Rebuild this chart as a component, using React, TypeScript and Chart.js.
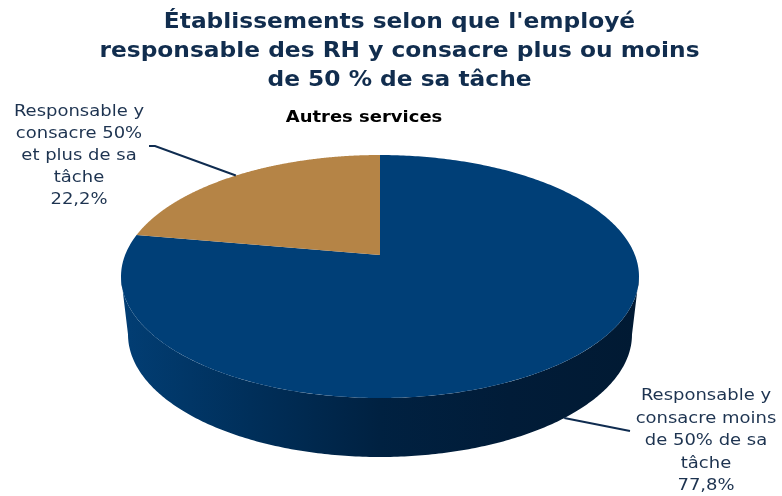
import React, { useEffect, useRef } from "react";
import { Chart, registerables } from "chart.js";

Chart.register(...registerables);

const categories = [
  "Responsable y consacre moins de 50% de sa tâche",
  "Responsable y consacre 50% et plus de sa tâche",
];
const seriesValues = [77.8, 22.2];
const sliceColors = ["#003f77", "#b58446"];
const titleLines = [
  "Établissements selon que l'employé",
  "responsable des RH y consacre plus ou moins",
  "de 50 % de sa tâche",
];
const subtitleText = "Autres services";
const labelLines = [
  ["Responsable y", "consacre moins", "de 50% de sa", "tâche", "77,8%"],
  ["Responsable y", "consacre 50%", "et plus de sa", "tâche", "22,2%"],
];

// Projection of the unit pie circle on to the page
const CX = 380, CY = 255, K = -0.177, A = 254.9, B = 117.7;
const TOP_CY = 277, BOT_CY = 335, BOT_RX = 252 / 259, BOT_RY = 123 / 122;
const SILHOUETTE = Math.asin(0.177);
const top = (t: number) => {
  const u = Math.cos(t), v = Math.sin(t), w = 1 + K * v;
  return { x: CX + (A * u) / w, y: CY + (B * v) / w };
};
const bottom = (t: number) => {
  const p = top(t);
  return { x: CX + (p.x - CX) * BOT_RX, y: BOT_CY + (p.y - TOP_CY) * BOT_RY };
};

const TITLE_STRETCH = 1.11;
const TEXT_STRETCH = 1.09;
const TITLE_CENTER = 399.5;

const stretched = (ctx: CanvasRenderingContext2D, s: string, cx: number, y: number) => {
  ctx.save();
  ctx.translate(cx, y);
  ctx.scale(TEXT_STRETCH, 1);
  ctx.fillText(s, 0, 0);
  ctx.restore();
};

const pie3d = {
  id: "pie3d",
  beforeDraw(chart: any) {
    // the title's face is wider than any installed font: widen it around its centre
    const tb = chart.titleBlock;
    if (tb && !tb.__wide) {
      tb.__wide = true;
      const draw = tb.draw;
      tb.draw = function (...args: any[]) {
        const ctx = chart.ctx;
        ctx.save();
        ctx.translate(TITLE_CENTER, 0);
        ctx.scale(TITLE_STRETCH, 1);
        ctx.translate(-TITLE_CENTER, 0);
        draw.apply(tb, args);
        ctx.restore();
      };
    }
  },
  beforeDatasetsDraw(chart: any) {
    const ctx = chart.ctx as CanvasRenderingContext2D;
    const arcs = chart.getDatasetMeta(0).data as any[];
    const angles = (arc: any) => arc.getProps(["startAngle", "endAngle"], true);
    ctx.save();

    // side wall: the visible front part of each slice
    const g = ctx.createLinearGradient(121, 0, 639, 0);
    g.addColorStop(0, "#023e74");
    g.addColorStop(0.25, "#002f5a");
    g.addColorStop(0.5, "#002141");
    g.addColorStop(0.75, "#011c38");
    g.addColorStop(1, "#011a33");
    ctx.fillStyle = g;
    arcs.forEach((arc) => {
      const { startAngle, endAngle } = angles(arc);
      const lo = Math.max(startAngle, SILHOUETTE);
      const hi = Math.min(endAngle, Math.PI - SILHOUETTE);
      if (lo >= hi) return;
      const n = 240;
      ctx.beginPath();
      for (let k = 0; k <= n; k++) {
        const p = top(lo + ((hi - lo) * k) / n);
        if (k === 0) ctx.moveTo(p.x, p.y);
        else ctx.lineTo(p.x, p.y);
      }
      for (let k = n; k >= 0; k--) {
        const p = bottom(lo + ((hi - lo) * k) / n);
        ctx.lineTo(p.x, p.y);
      }
      ctx.closePath();
      ctx.fill();
    });

    // top face
    arcs.forEach((arc, i) => {
      const { startAngle, endAngle } = angles(arc);
      ctx.beginPath();
      ctx.moveTo(CX, CY);
      const n = 360;
      for (let k = 0; k <= n; k++) {
        const p = top(startAngle + ((endAngle - startAngle) * k) / n);
        ctx.lineTo(p.x, p.y);
      }
      ctx.closePath();
      ctx.fillStyle = sliceColors[i];
      ctx.fill();
    });

    // leader lines
    ctx.strokeStyle = "#0f2c50";
    ctx.lineWidth = 2;
    const mid = (arc: any) => {
      const { startAngle, endAngle } = angles(arc);
      return (startAngle + endAngle) / 2;
    };
    const a0 = bottom(mid(arcs[0]));
    ctx.beginPath();
    ctx.moveTo(a0.x, a0.y);
    ctx.lineTo(630, 431);
    ctx.stroke();
    const a1 = top(mid(arcs[1]));
    ctx.beginPath();
    ctx.moveTo(a1.x, a1.y);
    ctx.lineTo(155, 146);
    ctx.lineTo(149, 146);
    ctx.stroke();

    // subtitle
    ctx.textAlign = "center";
    ctx.textBaseline = "alphabetic";
    ctx.fillStyle = "#000000";
    ctx.font = "bold 16.5px 'DejaVu Sans'";
    stretched(ctx, subtitleText, 364, 122);

    // slice labels
    ctx.fillStyle = "#1d3350";
    ctx.font = "16.5px 'DejaVu Sans'";
    labelLines[0].forEach((s, i) => stretched(ctx, s, 706, 400 + i * 22.5));
    labelLines[1].forEach((s, i) => stretched(ctx, s, 79, 116 + i * 22));

    ctx.restore();
    return false;
  },
};

export default function App() {
  const ref = useRef<HTMLCanvasElement | null>(null);
  useEffect(() => {
    document.body.style.margin = "0";
    const chart = new Chart(ref.current as HTMLCanvasElement, {
      type: "pie",
      data: {
        labels: categories,
        datasets: [{ data: seriesValues, backgroundColor: sliceColors, borderWidth: 0 }],
      },
      options: {
        responsive: false,
        animation: false,
        layout: { padding: { left: 17, top: 0 } },
        plugins: {
          legend: { display: false },
          tooltip: { enabled: false },
          title: {
            display: true,
            text: titleLines,
            color: "#112d4e",
            font: { family: "'DejaVu Sans'", size: 21, weight: "bold", lineHeight: 1.38 },
            padding: { top: 8, bottom: 0 },
          },
        },
      },
      plugins: [pie3d],
    } as any);
    return () => chart.destroy();
  }, []);
  return (
    <div style={{ width: 782, height: 496 }}>
      <canvas ref={ref} width={782} height={496} style={{ display: "block" }} />
    </div>
  );
}
